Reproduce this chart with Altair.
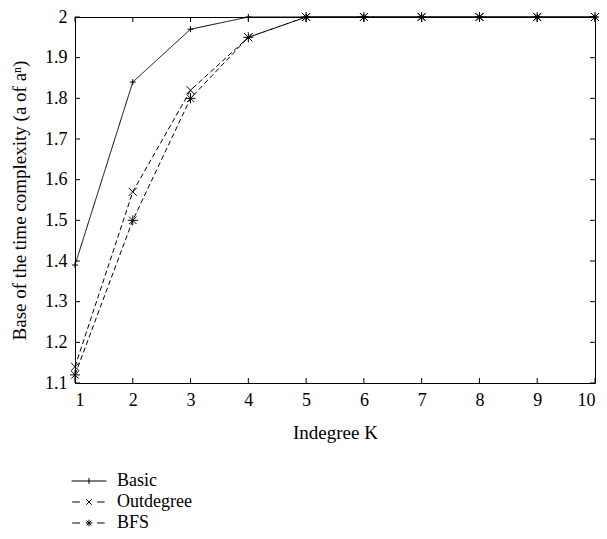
import altair as alt
import pandas as pd

k = [1, 2, 3, 4, 5, 6, 7, 8, 9, 10]
basic = [1.39, 1.84, 1.97, 2.0, 2.0, 2.0, 2.0, 2.0, 2.0, 2.0]
outdegree = [1.14, 1.57, 1.82, 1.95, 2.0, 2.0, 2.0, 2.0, 2.0, 2.0]
bfs = [1.12, 1.50, 1.80, 1.95, 2.0, 2.0, 2.0, 2.0, 2.0, 2.0]
series = ["Basic", "Outdegree", "BFS"]
y_ticks = [1.1, 1.2, 1.3, 1.4, 1.5, 1.6, 1.7, 1.8, 1.9, 2.0]

rows = []
for name, vals in zip(series, [basic, outdegree, bfs]):
    for kk, v in zip(k, vals):
        rows.append({"K": kk, "val": v, "series": name})
df = pd.DataFrame(rows)
dfx = pd.DataFrame({"K": k})
dfy = pd.DataFrame({"val": y_ticks})

W, H = 520, 366
TL = 5  # inward tick length
FONT = "Liberation Serif"
xs = alt.Scale(domain=[1, 10], nice=False, zero=False)
ys = alt.Scale(domain=[1.1, 2.0], nice=False, zero=False)

plus = "M-0.6,0L0.6,0M0,-0.6L0,0.6"
cross = "M-0.8,-0.8L0.8,0.8M-0.8,0.8L0.8,-0.8"
star = "M-1,0L1,0M0,-1L0,1M-0.75,-0.75L0.75,0.75M-0.75,0.75L0.75,-0.75"

leg_basic = "M-5.8,0L5.8,0M0,-1L0,1"
leg_out = "M-5.6,0L-3,0M2.7,0L5.2,0M-0.9,-0.9L0.9,0.9M-0.9,0.9L0.9,-0.9"
leg_bfs = "M-5.6,0L-3,0M2.7,0L5.2,0M-1.1,0L1.1,0M0,-1.1L0,1.1M-0.8,-0.8L0.8,0.8M-0.8,0.8L0.8,-0.8"

lines = alt.Chart(df).mark_line(color="black", strokeWidth=1).encode(
    x=alt.X("K:Q", scale=xs, axis=alt.Axis(values=k, format="d", ticks=False, domain=False, grid=False,
            labelFont=FONT, labelFontSize=18, labelColor="black", labelPadding=8,
            title="Indegree K", titleFont=FONT, titleFontSize=19, titleFontWeight="normal",
            titleColor="black", titlePadding=14)),
    y=alt.Y("val:Q", scale=ys, axis=alt.Axis(values=y_ticks, format="~g", ticks=False, domain=False,
            grid=False, labelFont=FONT, labelFontSize=18, labelColor="black", labelPadding=8,
            title="Base of the time complexity (a of aⁿ)", titleFont=FONT, titleFontSize=19,
            titleFontWeight="normal", titleColor="black", titlePadding=15)),
    strokeDash=alt.StrokeDash("series:N", scale=alt.Scale(domain=series, range=[[1, 0], [5, 3], [5, 3]]),
                              legend=None),
    detail="series:N",
)

points = alt.Chart(df).mark_point(color="black", filled=False, strokeWidth=1, size=100, opacity=1).encode(
    x=alt.X("K:Q", scale=xs),
    y=alt.Y("val:Q", scale=ys),
    shape=alt.Shape("series:N", scale=alt.Scale(domain=series, range=[plus, cross, star]), legend=None),
)

legend_layer = alt.Chart(df).transform_filter("false").mark_point(
    color="black", filled=False, strokeWidth=1, opacity=1).encode(
    x=alt.X("K:Q", scale=xs),
    y=alt.Y("val:Q", scale=ys),
    shape=alt.Shape("series:N", scale=alt.Scale(domain=series, range=[leg_basic, leg_out, leg_bfs]),
                    legend=alt.Legend(title=None, orient="none", legendX=5, legendY=455,
                                      symbolSize=36, symbolStrokeColor="black", symbolFillColor="transparent",
                                      symbolStrokeWidth=1, labelFont=FONT, labelFontSize=18,
                                      labelColor="black", labelOffset=19, rowPadding=3,
                                      symbolOpacity=1)),
)

tick_bottom = alt.Chart(dfx).mark_rule(color="black", strokeWidth=1).encode(
    x=alt.X("K:Q", scale=xs), y=alt.value(H), y2=alt.value(H - TL))
tick_top = alt.Chart(dfx).mark_rule(color="black", strokeWidth=1).encode(
    x=alt.X("K:Q", scale=xs), y=alt.value(0), y2=alt.value(TL))
tick_left = alt.Chart(dfy).mark_rule(color="black", strokeWidth=1).encode(
    y=alt.Y("val:Q", scale=ys), x=alt.value(0), x2=alt.value(TL))
tick_right = alt.Chart(dfy).mark_rule(color="black", strokeWidth=1).encode(
    y=alt.Y("val:Q", scale=ys), x=alt.value(W - TL), x2=alt.value(W))

chart = alt.layer(lines, points, legend_layer, tick_bottom, tick_top, tick_left, tick_right).resolve_scale(
    shape="independent"
).properties(
    width=W, height=H,
    autosize=alt.AutoSizeParams(type="none"),
    padding={"left": 67, "top": 9, "right": 4, "bottom": 155},
    background="white",
).configure_view(stroke="black", strokeWidth=1)

chart.save("out.html", embed_options={"renderer": "svg", "actions": False})
